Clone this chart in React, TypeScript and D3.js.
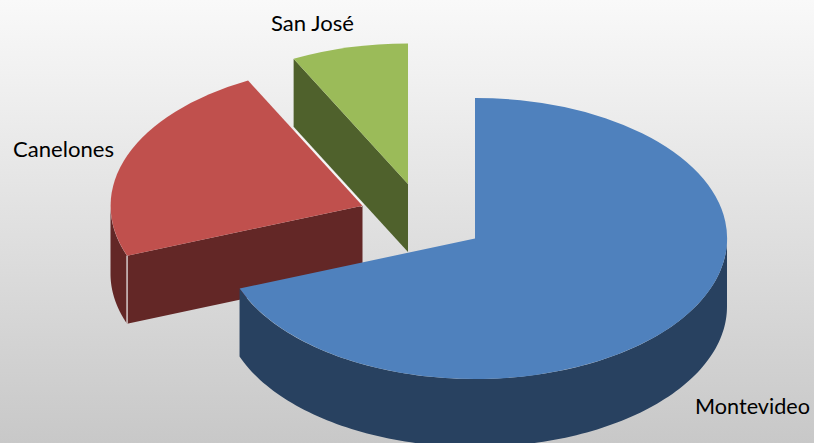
import * as d3 from "d3";

const regions = ["Montevideo", "Canelones", "San José"];
const shares = [69.2, 23.3, 7.5];
const topColors = ["#4f81bd", "#c0504d", "#9bbb59"];
const wallColors = ["#284160", "#632726", "#4f612c"];
const centerX = [475, 362.5, 408];
const centerY = [238.5, 205.7, 184];
const labelX = [695, 13, 271];
const labelY = [414, 157, 31];
const labelW = [115, 101, 83];

const W = 814;
const H = 443;
const RX = 252;
const RY = 140.5;
const DEPTH = 68;

const pie = d3.pie<number>().sort(null).startAngle(0).endAngle(2 * Math.PI);
const arcs = pie(shares);
const unitArc = d3.arc<d3.PieArcDatum<number>>().innerRadius(0).outerRadius(1);
const poly = d3.line<[number, number]>();

function rimPoint(i: number, a: number, dz = 0): [number, number] {
  return [centerX[i] + RX * Math.sin(a), centerY[i] - RY * Math.cos(a) + dz];
}

function rimWall(i: number): string | null {
  const a0 = Math.max(arcs[i].startAngle, Math.PI / 2);
  const a1 = Math.min(arcs[i].endAngle, (3 * Math.PI) / 2);
  if (a1 <= a0) return null;
  const angles = d3.range(0, 121).map((k) => a0 + ((a1 - a0) * k) / 120);
  const pts = [
    ...angles.map((a) => rimPoint(i, a)),
    ...angles.slice().reverse().map((a) => rimPoint(i, a, DEPTH)),
  ];
  return poly(pts) + "Z";
}

function cutFace(i: number, a: number): string {
  const c: [number, number] = [centerX[i], centerY[i]];
  return (
    poly([c, rimPoint(i, a), rimPoint(i, a, DEPTH), [c[0], c[1] + DEPTH]]) + "Z"
  );
}

// slices are painted back to front
const order = [2, 1, 0];

export default function App() {
  const can = 1;
  const seamTop = rimPoint(can, arcs[can].startAngle);
  const seamBottom = rimPoint(can, arcs[can].startAngle, DEPTH);
  const edge = rimPoint(can, arcs[can].endAngle);
  const t = 0.59;
  const edgeStart: [number, number] = [
    edge[0] + (centerX[can] - edge[0]) * (1 - t),
    edge[1] + (centerY[can] - edge[1]) * (1 - t),
  ];
  return (
    <svg
      width={W}
      height={H}
      viewBox={`0 0 ${W} ${H}`}
      style={{ position: "absolute", left: 0, top: 0, display: "block" }}
    >
      <defs>
        <linearGradient id="bg" x1="0" y1="0" x2="0" y2="1">
          <stop offset="0" stopColor="#f9f9f9" />
          <stop offset="1" stopColor="#c8c8c8" />
        </linearGradient>
      </defs>
      <rect width={W} height={H} fill="url(#bg)" />
      {order.map((i) => {
        const d = arcs[i];
        const wall = rimWall(i);
        const startVisible = Math.sin(d.startAngle) < -1e-6;
        const endVisible = Math.sin(d.endAngle) > 1e-6;
        return (
          <g key={regions[i]}>
            {wall && <path d={wall} fill={wallColors[i]} />}
            {startVisible && <path d={cutFace(i, d.startAngle)} fill={wallColors[i]} />}
            {endVisible && <path d={cutFace(i, d.endAngle)} fill={wallColors[i]} />}
            {i === can && (
              <line
                x1={edgeStart[0]}
                y1={edgeStart[1]}
                x2={centerX[can]}
                y2={centerY[can]}
                stroke="#f6f6f6"
                strokeWidth={3.5}
              />
            )}
            <path
              d={unitArc(d) as string}
              transform={`translate(${centerX[i]},${centerY[i]}) scale(${RX},${RY})`}
              fill={topColors[i]}
            />
            {i === can && (
              <line
                x1={seamTop[0]}
                y1={seamTop[1]}
                x2={seamBottom[0]}
                y2={seamBottom[1]}
                stroke="#f0f0f0"
                strokeWidth={1.2}
              />
            )}
          </g>
        );
      })}
      {regions.map((r, i) => (
        <text
          key={r}
          x={labelX[i]}
          y={labelY[i]}
          fontFamily="Lato, 'Open Sans', sans-serif"
          fontSize={22}
          fill="#000"
          textLength={labelW[i]}
          lengthAdjust="spacingAndGlyphs"
        >
          {r}
        </text>
      ))}
    </svg>
  );
}
